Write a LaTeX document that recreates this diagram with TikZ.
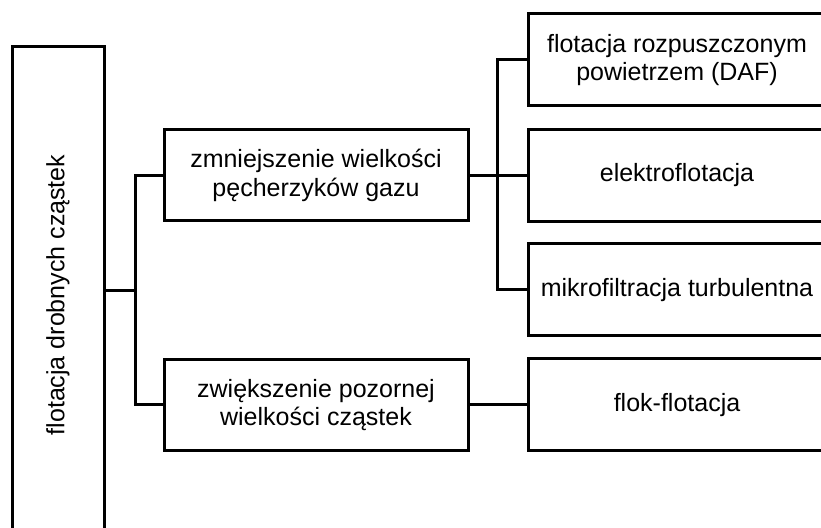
\documentclass[tikz,border=0pt]{standalone}
\usepackage{fontspec}
\setmainfont{Liberation Sans}
\begin{document}
\begin{tikzpicture}[x=0.5pt,y=-0.5pt,
  box/.style={draw=black,line width=1.5pt,inner sep=0pt,outer sep=0pt,align=center,
    font=\fontsize{12.5}{14.4}\selectfont},
  link/.style={draw=black,line width=1.5pt}]
\useasboundingbox (0,0) rectangle (821,528);
\clip (0,0) rectangle (821,528);
\node[box,minimum width=92*0.5pt,minimum height=496*0.5pt] (L) at (58,295) {};
\node[rotate=90,font=\fontsize{12.5}{14.4}\selectfont] (Lt) at (58,295) {flotacja drobnych cząstek};
\node[box,minimum width=304*0.5pt,minimum height=91*0.5pt] (M1) at (316,175.5) {zmniejszenie wielkości\\pęcherzyków gazu};
\node[box,minimum width=304*0.5pt,minimum height=91*0.5pt] (M2) at (316,405) {zwiększenie pozornej\\wielkości cząstek};
\node[box,minimum width=298*0.5pt,minimum height=92*0.5pt] (R1) at (677,60) {flotacja rozpuszczonym\\powietrzem (DAF)};
\node[box,minimum width=298*0.5pt,minimum height=92*0.5pt] (R2) at (677,175.5) {elektroflotacja};
\node[box,minimum width=298*0.5pt,minimum height=92*0.5pt] (R3) at (677,290) {mikrofiltracja turbulentna};
\node[box,minimum width=298*0.5pt,minimum height=92*0.5pt] (R4) at (677,405) {flok-flotacja};
\coordinate (j1) at (135,291);
\coordinate (j2) at (497,175.5);
\draw[link] (j1 -| L.east) -- (j1);
\draw[link] (M1.west) -| (j1) |- (M2.west);
\draw[link] (M1.east) -- (R2.west);
\draw[link] (R1.west) -| (j2) |- (R3.west);
\draw[link] (M2.east) -- (R4.west);
\end{tikzpicture}
\end{document}
